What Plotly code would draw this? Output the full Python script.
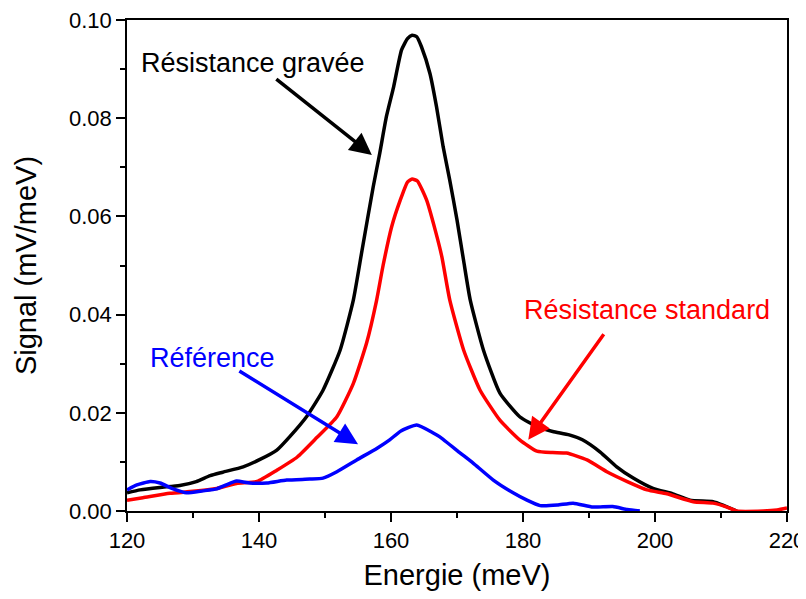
import plotly.graph_objects as go

# Résistance gravée (black)
e_grav = [120, 122, 125, 128, 130.5, 132.6, 134.5, 137.6, 140, 142.7, 144.7, 147.2, 149.7, 152.3, 154.3,
          155.6, 157.3, 158.3, 159.3, 160.4, 161.6, 162.5, 163.2, 163.9, 164.6, 165.9, 166.9, 167.9, 168.9,
          170.0, 171.0, 172.0, 174.0, 176.5, 179.5, 182.1, 184.5, 187.0, 189.0, 191.7, 194.2, 196.7, 199.7,
          202.7, 205.3, 208.8, 210.3, 212.4]
s_grav = [0.0037, 0.0043, 0.0048, 0.0052, 0.0060, 0.0072, 0.0079, 0.0090, 0.0104, 0.0124, 0.0152, 0.0192,
          0.0246, 0.0328, 0.0430, 0.0530, 0.0660, 0.0729, 0.0803, 0.0864, 0.0939, 0.0962, 0.0969, 0.0966,
          0.0946, 0.0891, 0.0823, 0.0742, 0.0674, 0.0593, 0.0510, 0.0430, 0.0328, 0.0240, 0.0192, 0.0172,
          0.0162, 0.0155, 0.0145, 0.0120, 0.0090, 0.0067, 0.0046, 0.0035, 0.0022, 0.0019, 0.0012, 0.0000]

# Résistance standard (red)
e_std = [120, 122.4, 126.5, 130, 133.6, 136.6, 139.7, 142.7, 145.8, 148.8, 151.8, 154.3, 156.3, 157.8,
         158.8, 160.1, 161.4, 162.5, 163.2, 164.0, 165.4, 166.7, 167.7, 168.9, 171.0, 173.5, 176.5, 179.5,
         182.1, 184.5, 186.6, 189.7, 192.7, 195.8, 198.8, 201.8, 205.8, 208.8, 210.9, 212.4, 216.4, 218.5, 220]
s_std = [0.0022, 0.0027, 0.0036, 0.0040, 0.0046, 0.0056, 0.0060, 0.0083, 0.0110, 0.0150, 0.0192, 0.0260,
         0.0342, 0.0428, 0.0500, 0.0579, 0.0633, 0.0670, 0.0676, 0.0672, 0.0633, 0.0572, 0.0518, 0.0430,
         0.0328, 0.0246, 0.0185, 0.0145, 0.0122, 0.0119, 0.0118, 0.0104, 0.0080, 0.0060, 0.0043, 0.0035,
         0.0019, 0.0016, 0.0008, 0.0000, 0.0000, 0.0002, 0.0006]

# Référence (blue)
e_ref = [120, 121.5, 123.5, 125, 127, 129, 131.5, 133.6, 135, 136.6, 138.6, 141.2, 144.2, 147.7, 149.7,
         151.8, 154.8, 157.9, 159.8, 161.5, 163.9, 166.4, 167.4, 170.5, 172.4, 175.5, 178.5, 180.6, 182.6,
         185.2, 187.6, 190.6, 193.6, 195.8, 197.7]
s_ref = [0.0043, 0.0053, 0.0060, 0.0057, 0.0045, 0.0037, 0.0041, 0.0045, 0.0053, 0.0061, 0.0057, 0.0057,
         0.0063, 0.0065, 0.0067, 0.0080, 0.0104, 0.0128, 0.0145, 0.0163, 0.0175, 0.0159, 0.0151, 0.0118,
         0.0098, 0.0063, 0.0037, 0.0022, 0.0011, 0.0012, 0.0016, 0.0008, 0.0009, 0.0003, 0.0000]

x_ticks = [120, 140, 160, 180, 200, 220]
y_ticks = [0.00, 0.02, 0.04, 0.06, 0.08, 0.10]

FONT = "Liberation Sans, Arial, sans-serif"

fig = go.Figure()
for e, s, c, name in [(e_grav, s_grav, "black", "Résistance gravée"),
                      (e_std, s_std, "#ff0000", "Résistance standard"),
                      (e_ref, s_ref, "#0000ff", "Référence")]:
    fig.add_trace(go.Scatter(x=e, y=s, mode="lines", name=name,
                             line=dict(color=c, width=3.5, shape="spline", smoothing=0.5)))

# labels with arrows: (text, text x, text y, tail x, tail y, head x, head y, color)
labels = [
    ("Résistance gravée", 139.1, 0.0912, 142.4, 0.0882, 157.1, 0.0725, "black"),
    ("Résistance standard", 198.8, 0.0409, 192.4, 0.0363, 180.8, 0.0145, "#ff0000"),
    ("Référence", 133.0, 0.0312, 136.8, 0.0287, 155.0, 0.0136, "#0000ff"),
]
for txt, tx, ty, ax_, ay_, hx, hy, c in labels:
    fig.add_annotation(x=tx, y=ty, xref="x", yref="y", text=txt, showarrow=False,
                       font=dict(family=FONT, size=27, color=c), xanchor="center", yanchor="middle")
    fig.add_annotation(x=hx, y=hy, xref="x", yref="y", ax=ax_, ay=ay_, axref="x", ayref="y",
                       text="", showarrow=True, arrowhead=2, arrowsize=1.25, arrowwidth=3.5,
                       arrowcolor=c)

axis_common = dict(showline=True, linecolor="black", linewidth=1.5, mirror=True,
                   ticks="outside", ticklen=9, tickwidth=1.5, tickcolor="black",
                   showgrid=False, zeroline=False, automargin=False, ticklabeloverflow="allow",
                   tickfont=dict(family=FONT, size=22, color="black"))

fig.update_xaxes(range=[120, 220], tickvals=x_ticks, ticktext=[str(v) for v in x_ticks],
                 minor=dict(ticks="outside", ticklen=5, tickwidth=1.5, tickcolor="black", dtick=10),
                 title=dict(text="Energie (meV)", font=dict(family=FONT, size=29, color="black"),
                            standoff=19),
                 **axis_common)
fig.update_yaxes(range=[0, 0.1], tickvals=y_ticks, ticktext=[f"{v:.2f}" for v in y_ticks],
                 minor=dict(ticks="outside", ticklen=5, tickwidth=1.5, tickcolor="black", dtick=0.01),
                 title=dict(text="Signal (mV/meV)", font=dict(family=FONT, size=29, color="black"),
                            standoff=24),
                 **axis_common)

# page body has an 8px default margin, so the figure is sized/margined to compensate
fig.update_layout(width=798, height=583, margin=dict(l=119, r=19, t=12, b=80),
                  paper_bgcolor="white", plot_bgcolor="white", showlegend=False,
                  font=dict(family=FONT, color="black"))

fig.write_html("out.html")
